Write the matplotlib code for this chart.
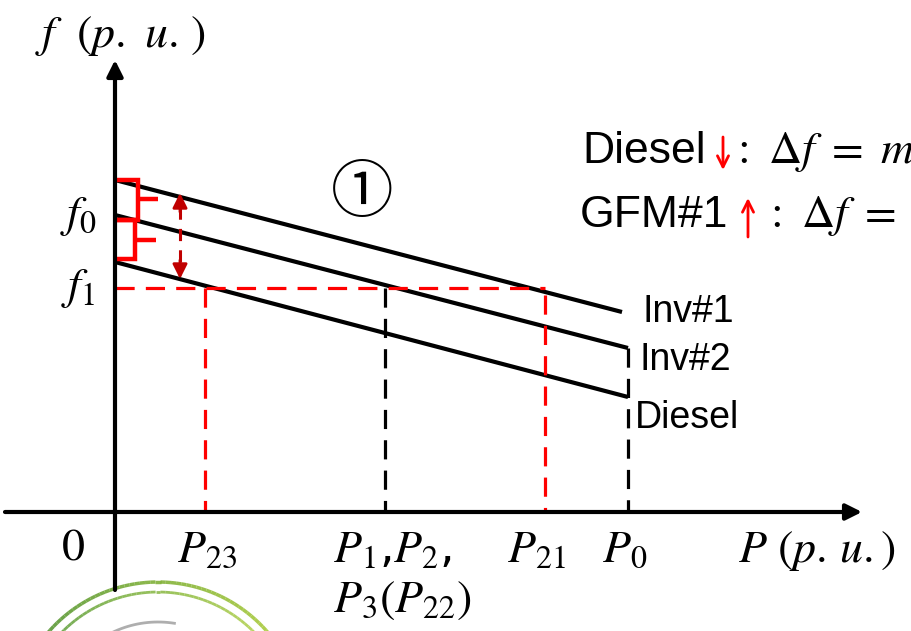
import numpy as np
import matplotlib.pyplot as plt
from matplotlib.collections import LineCollection

plt.rcParams['mathtext.fontset'] = 'stix'

# droop lines (P, f) in drawing units, origin at the axis crossing
inv1_P = [0, 507]
inv1_f = [332, 200]
inv2_P = [0, 513]
inv2_f = [297, 164]
diesel_P = [0, 513]
diesel_f = [250, 115]

f1 = 224
P23, P1, P21, P0 = 90, 270, 430, 513
P21_top = 217

fig = plt.figure(figsize=(9.12, 6.31), dpi=100)
ax = fig.add_axes([0, 0, 1, 1])
ax.set_xlim(-115, 797)
ax.set_ylim(-119, 512)
ax.axis('off')

# axes with arrows
ax.annotate('', xy=(0, 452), xytext=(0, -78),
            arrowprops=dict(arrowstyle='-|>', lw=3, color='k', mutation_scale=24,
                            shrinkA=0, shrinkB=0))
ax.annotate('', xy=(747, 0), xytext=(-110, 0),
            arrowprops=dict(arrowstyle='-|>', lw=3, color='k', mutation_scale=24,
                            shrinkA=0, shrinkB=0))

# droop characteristics
for P, f in [(inv1_P, inv1_f), (inv2_P, inv2_f), (diesel_P, diesel_f)]:
    ax.plot(P, f, color='k', lw=3, solid_capstyle='butt')

dash = dict(lw=2.3, dashes=(6, 3.5))
ax.plot([0, P21], [f1, f1], color='red', **dash)
ax.plot([P23, P23], [f1, 0], color='red', **dash)
ax.plot([P21, P21], [P21_top, 0], color='red', **dash)
ax.plot([P1, P1], [f1, 0], color='k', **dash)
ax.plot([P0, P0], [inv2_f[1], 0], color='k', **dash)

# red brackets
br = dict(color='red', lw=3.2, solid_capstyle='butt', solid_joinstyle='miter')
ax.plot([0, 23, 23, 0], [332, 332, 292, 292], **br)
ax.plot([23, 43], [313, 313], **br)
ax.plot([0, 20, 20, 0], [292, 292, 253, 253], **br)
ax.plot([20, 41], [272, 272], **br)

# dark red double arrow
ax.plot([65, 65], [305, 247], color='#c00000', lw=2.2, dashes=(4, 3))
for tip, tail in [(319, 300), (233, 252)]:
    ax.annotate('', xy=(65, tip), xytext=(65, tail),
                arrowprops=dict(arrowstyle='-|>', lw=2, color='#c00000',
                                mutation_scale=22, shrinkA=0, shrinkB=0))

# axis texts
ms = 33
ax.text(5, 477, r'$f\ \ (p.\,\,u.\,)$', fontsize=ms, ha='center', va='center')
ax.text(-37, 297, r'$f_0$', fontsize=ms, ha='center', va='center')
ax.text(-37, 224, r'$f_1$', fontsize=ms, ha='center', va='center')
ax.text(-42, -48, r'$0$', fontsize=ms, ha='center', va='baseline')
ax.text(62, -50, r'$P_{23}$', fontsize=ms, ha='left', va='baseline')
ax.text(218, -50, r'$P_1$,$P_2$,', fontsize=ms, ha='left', va='baseline')
ax.text(218, -100, r'$P_3(P_{22})$', fontsize=ms, ha='left', va='baseline')
ax.text(392, -50, r'$P_{21}$', fontsize=ms, ha='left', va='baseline')
ax.text(487, -50, r'$P_0$', fontsize=ms, ha='left', va='baseline')
ax.text(623, -50, r'$P\ (p.\,u.)$', fontsize=ms, ha='left', va='baseline')

ax.text(247, 318, '\u2460', fontsize=45, ha='center', va='center',
        family=['Noto Sans CJK JP', 'DejaVu Sans'])

sans = ['Liberation Sans', 'DejaVu Sans']
ax.text(528, 190, 'Inv#1', fontsize=27, family=sans, va='baseline')
ax.text(525, 142, 'Inv#2', fontsize=27, family=sans, va='baseline')
ax.text(520, 84, 'Diesel', fontsize=27, family=sans, va='baseline')

# annotation at top right (cut off by the figure edge, as in the reference)
ax.text(467, 349, 'Diesel', fontsize=32, family=sans, va='baseline')
ax.annotate('', xy=(608, 342), xytext=(608, 375),
            arrowprops=dict(arrowstyle='->', lw=2, color='red',
                            mutation_scale=20, shrinkA=0, shrinkB=0))
ax.text(616, 349, r'$:\ \Delta f\ =\ m$', fontsize=ms, va='baseline')
ax.text(465, 285, 'GFM#1', fontsize=32, family=sans, va='baseline')
ax.annotate('', xy=(633, 314), xytext=(633, 275),
            arrowprops=dict(arrowstyle='->', lw=2, color='red',
                            mutation_scale=20, shrinkA=0, shrinkB=0))
ax.text(649, 285, r'$:\ \Delta f\ =$', fontsize=ms, va='baseline')

# watermark arcs at the bottom left
cx, cy = 158 - 115, 512 - 727
for r, c0, c1, w in [(145, (0.2, 0.5, 0.15), (0.75, 0.85, 0.2), 2.5),
                     (135, (0.25, 0.55, 0.2), (0.8, 0.88, 0.3), 2.0)]:
    t = np.linspace(np.pi * 0.95, np.pi * 0.05, 80)
    xs = cx + r * np.cos(t)
    ys = cy + r * np.sin(t)
    pts = np.column_stack([xs, ys]).reshape(-1, 1, 2)
    segs = np.concatenate([pts[:-1], pts[1:]], axis=1)
    cols = [tuple(a + (b - a) * k for a, b in zip(c0, c1)) for k in np.linspace(0, 1, len(segs))]
    ax.add_collection(LineCollection(segs, colors=cols, lw=w, alpha=0.85))
t = np.linspace(np.pi * 0.85, np.pi * 0.45, 40)
ax.plot(cx + 105 * np.cos(t), cy + 105 * np.sin(t), color='0.55', lw=2, alpha=0.7)

fig.savefig('out.png', dpi=100)
